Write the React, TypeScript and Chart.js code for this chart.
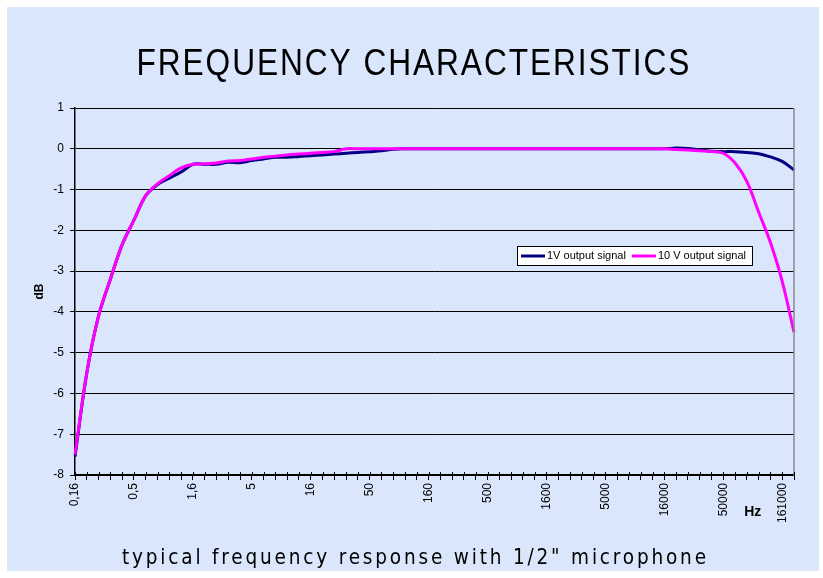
import React, { useEffect, useRef } from "react";
import { Chart, registerables } from "chart.js";

Chart.register(...registerables);

// Third-octave frequency categories (Hz)
const frequencies = [
  0.16, 0.2, 0.25, 0.315, 0.4, 0.5, 0.63, 0.8, 1, 1.25,
  1.6, 2, 2.5, 3.15, 4, 5, 6.3, 8, 10, 12.5,
  16, 20, 25, 31.5, 40, 50, 63, 80, 100, 125,
  160, 200, 250, 315, 400, 500, 630, 800, 1000, 1250,
  1600, 2000, 2500, 3150, 4000, 5000, 6300, 8000, 10000, 12500,
  16000, 20000, 25000, 31500, 40000, 50000, 63000, 80000, 100000, 125000,
  160000, 200000,
];

// Labels shown on the x axis (every 5th category)
const tickLabels = ["0,16", "0,5", "1,6", "5", "16", "50", "160", "500", "1600", "5000", "16000", "50000", "161000"];
const labelEvery = 5;

const yTicksMin = -8;
const yTicksMax = 1;

// dB values
const signal1V = [
  -7.55, -5.5, -4.1, -3.2, -2.35, -1.75, -1.15, -0.88, -0.72, -0.57,
  -0.38, -0.38, -0.38, -0.33, -0.34, -0.29, -0.25, -0.21, -0.21, -0.19,
  -0.17, -0.15, -0.13, -0.11, -0.09, -0.07, -0.05, -0.01, 0, 0,
  0, 0, 0, 0, 0, 0, 0, 0, 0, 0,
  0, 0, 0, 0, 0, 0, 0, 0, 0, 0,
  0, 0.02, 0.01, -0.03, -0.06, -0.07, -0.07, -0.09, -0.12, -0.2,
  -0.31, -0.52,
];

const signal10V = [
  -7.5, -5.5, -4.1, -3.2, -2.35, -1.75, -1.15, -0.86, -0.66, -0.47,
  -0.38, -0.37, -0.35, -0.3, -0.29, -0.25, -0.21, -0.18, -0.15, -0.13,
  -0.11, -0.09, -0.07, 0, 0, 0, 0, 0, 0, 0,
  0, 0, 0, 0, 0, 0, 0, 0, 0, 0,
  0, 0, 0, 0, 0, 0, 0, 0, 0, 0,
  0, -0.02, -0.03, -0.05, -0.07, -0.11, -0.35, -0.8, -1.55, -2.3,
  -3.25, -4.5,
];

const seriesNames = ["1V output signal", "10 V output signal"];
const seriesColors = ["#000080", "#ff00ff"];

const TITLE = "FREQUENCY CHARACTERISTICS";
const SUBTITLE = "typical frequency response with 1/2\" microphone";
const BG = "#d9e6fb";
const FONT = '"Liberation Sans", Arial, Helvetica, sans-serif';

// Draw text horizontally condensed by sx, with letter spacing filling the given width
function drawSpaced(
  ctx: CanvasRenderingContext2D,
  text: string,
  cx: number,
  baseline: number,
  font: string,
  width: number,
  sx: number | null
) {
  ctx.save();
  ctx.font = font;
  (ctx as any).letterSpacing = "0px";
  const w = ctx.measureText(text).width;
  let scale = sx ?? width / w;
  let sp = sx == null ? 0 : (width / scale - w) / (text.length - 1);
  if (sp < 0) {
    sp = 0;
    scale = width / w;
  }
  (ctx as any).letterSpacing = sp + "px";
  ctx.textAlign = "left";
  ctx.textBaseline = "alphabetic";
  ctx.translate(cx - width / 2, baseline);
  ctx.scale(scale, 1);
  ctx.fillText(text, 0, 0);
  ctx.restore();
}

const decorPlugin = {
  id: "decor",
  beforeDraw(chart: any) {
    const ctx = chart.ctx as CanvasRenderingContext2D;
    ctx.save();
    ctx.fillStyle = "#ffffff";
    ctx.fillRect(0, 0, chart.width, chart.height);
    ctx.fillStyle = BG;
    ctx.fillRect(7, 7, chart.width - 11, chart.height - 14);
    ctx.restore();
  },
  afterDraw(chart: any) {
    const ctx = chart.ctx as CanvasRenderingContext2D;
    const ca = chart.chartArea;
    const xs = chart.scales.x;
    ctx.save();

    // right plot border
    ctx.strokeStyle = "#8a8a8a";
    ctx.lineWidth = 1.5;
    ctx.beginPath();
    ctx.moveTo(ca.right, ca.top);
    ctx.lineTo(ca.right, ca.bottom);
    ctx.stroke();

    // tick marks crossing above x axis
    ctx.strokeStyle = "#000";
    ctx.lineWidth = 1;
    for (let i = 0; i < xs.ticks.length; i++) {
      const px = Math.round(xs.getPixelForTick(i)) + 0.5;
      ctx.beginPath();
      ctx.moveTo(px, ca.bottom - 3);
      ctx.lineTo(px, ca.bottom);
      ctx.stroke();
    }

    ctx.fillStyle = "#000";
    // Title
    drawSpaced(ctx, TITLE, 413, 75, "36px " + FONT, 553, 0.88);
    // Subtitle
    drawSpaced(ctx, SUBTITLE, 414, 564, '21px "DejaVu Sans", Tahoma, sans-serif', 584, 0.88);

    // y axis title
    ctx.save();
    ctx.translate(40, (ca.top + ca.bottom) / 2);
    ctx.rotate(-Math.PI / 2);
    ctx.font = "bold 12px " + FONT;
    ctx.textAlign = "center";
    ctx.textBaseline = "middle";
    ctx.fillText("dB", 0, 0);
    ctx.restore();

    // x axis title
    ctx.font = "bold 14px " + FONT;
    ctx.textAlign = "center";
    ctx.textBaseline = "middle";
    ctx.fillText("Hz", xs.getPixelForValue(57.5), ca.bottom + 37);

    // Legend
    const lx = ca.left + 442;
    const ly = ca.top + 138;
    const lw = 235;
    const lh = 19;
    ctx.fillStyle = "#ffffff";
    ctx.fillRect(lx, ly, lw, lh);
    ctx.strokeStyle = "#000";
    ctx.lineWidth = 1;
    ctx.strokeRect(Math.round(lx) + 0.5, Math.round(ly) + 0.5, lw, lh);
    ctx.font = "11px " + FONT;
    ctx.textAlign = "left";
    ctx.textBaseline = "middle";
    let cx = lx + 4;
    const cy = ly + lh / 2 + 0.5;
    chart.data.datasets.forEach((ds: any) => {
      ctx.strokeStyle = ds.borderColor;
      ctx.lineWidth = 3;
      ctx.beginPath();
      ctx.moveTo(cx, cy);
      ctx.lineTo(cx + 24, cy);
      ctx.stroke();
      cx += 26;
      ctx.fillStyle = "#000";
      ctx.fillText(ds.label, cx, cy);
      cx += ctx.measureText(ds.label).width + 6;
    });

    ctx.restore();
  },
};

export default function App() {
  const ref = useRef<HTMLCanvasElement>(null);

  useEffect(() => {
    const canvas = ref.current;
    if (!canvas) return;
    const tickFont = { family: FONT, size: 12 };
    const chart = new Chart(canvas, {
      type: "line",
      data: {
        labels: frequencies.map((f) => String(f)),
        datasets: [
          {
            label: seriesNames[0],
            data: signal1V,
            borderColor: seriesColors[0],
            backgroundColor: seriesColors[0],
            borderWidth: 3,
            pointRadius: 0,
            tension: 0.35,
            fill: false,
            order: 2,
          },
          {
            label: seriesNames[1],
            data: signal10V,
            borderColor: seriesColors[1],
            backgroundColor: seriesColors[1],
            borderWidth: 3,
            pointRadius: 0,
            tension: 0.35,
            fill: false,
            order: 1,
          },
        ],
      },
      options: {
        responsive: false,
        animation: false,
        devicePixelRatio: 1,
        layout: { padding: { top: 108, right: 29, left: 0, bottom: 0 } },
        plugins: {
          legend: { display: false },
          title: { display: false },
          tooltip: { enabled: false },
        },
        scales: {
          x: {
            type: "category",
            offset: false,
            grid: { display: true, drawOnChartArea: false, drawTicks: true, tickLength: 5, color: "#000", lineWidth: 1 },
            border: { display: true, color: "#000", width: 1.5 },
            ticks: {
              autoSkip: false,
              maxRotation: 90,
              minRotation: 90,
              padding: 3,
              color: "#000",
              font: tickFont,
              callback: (_v: any, i: number) => (i % labelEvery === 0 ? tickLabels[i / labelEvery] ?? "" : ""),
            },
            afterFit: (s: any) => {
              s.height = 103;
            },
          },
          y: {
            min: yTicksMin,
            max: yTicksMax,
            ticks: { stepSize: 1, color: "#000", padding: 6, font: tickFont },
            grid: { color: "#000", lineWidth: 1, tickLength: 5 },
            border: { display: true, color: "#000", width: 1.5 },
            afterFit: (s: any) => {
              s.width = 75;
            },
          },
        },
      },
      plugins: [decorPlugin],
    } as any);
    return () => chart.destroy();
  }, []);

  return (
    <div style={{ position: "fixed", left: 0, top: 0, width: 823, height: 578 }}>
      <canvas ref={ref} width={823} height={578} style={{ display: "block" }} />
    </div>
  );
}
